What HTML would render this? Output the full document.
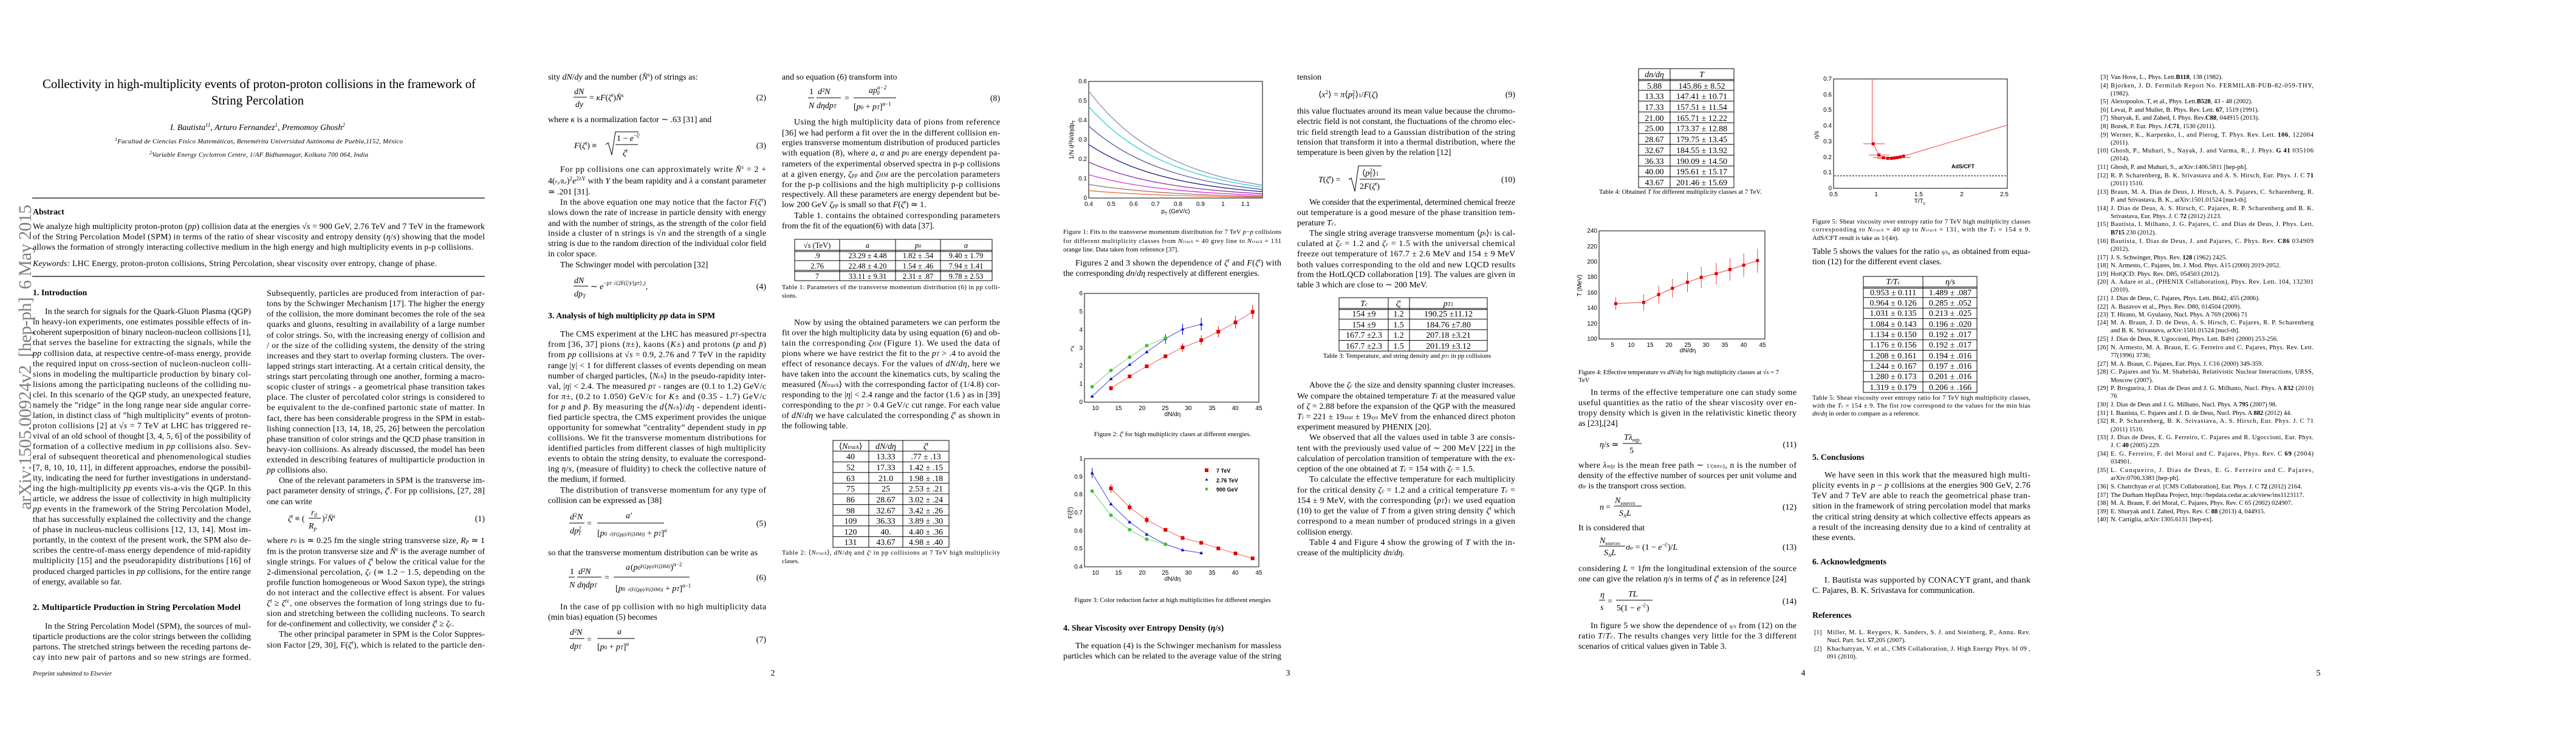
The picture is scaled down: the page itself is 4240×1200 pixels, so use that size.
<!DOCTYPE html>
<html><head><meta charset="utf-8"><style>
html,body{margin:0;padding:0;background:#fff;}
svg{display:block;}
text{font-family:"Liberation Serif",serif;font-size:13.9px;fill:#000;}
.c{font-size:10.8px;}
.b{font-weight:bold;}
.i{font-style:italic;}
.s{font-family:"Liberation Sans",sans-serif;font-size:10px;}
.r{font-size:10.6px;}
.m{text-anchor:middle;}
.e{text-anchor:end;}
.ax{fill:none;stroke:#000;stroke-width:1;}
.tl{stroke:#000;stroke-width:1;}
</style></head><body>
<svg width="4240" height="1200" viewBox="0 0 4240 1200" xmlns="http://www.w3.org/2000/svg">
<rect width="4240" height="1200" fill="#fff"/>

<!-- ================= PAGE 1 ================= -->
<text x="51" y="839" transform="rotate(-90 51 839)" textLength="502" style="font-size:30px;fill:#808080" xml:space="preserve">arXiv:1505.00924v2  [hep-ph]  6 May 2015</text>
<text x="70" y="145" textLength="713" style="font-size:21px">Collectivity in high-multiplicity events of proton-proton collisions in the framework of</text>
<text x="424" y="172" class="m" style="font-size:21px">String Percolation</text>
<text x="424" y="214" class="m i">I. Bautista<tspan dy="-5" style="font-size:9px">11</tspan><tspan dy="5">, Arturo Fernandez</tspan><tspan dy="-5" style="font-size:9px">1</tspan><tspan dy="5">, Premomoy Ghosh</tspan><tspan dy="-5" style="font-size:9px">2</tspan></text>
<text x="189" y="236" textLength="474" class="i c"><tspan style="font-size:8px" dy="-4">1</tspan><tspan dy="4">Facultad de Ciencias Físico Matemáticas, Benemérita Universidad Autónoma de Puebla,1152, México</tspan></text>
<text x="246" y="258" textLength="360" class="i c"><tspan style="font-size:8px" dy="-4">2</tspan><tspan dy="4">Variable Energy Cyclotron Centre, 1/AF Bidhannagar, Kolkata 700 064, India</tspan></text>
<line x1="53" y1="326" x2="798" y2="326" stroke="#000" stroke-width="1.3"/>
<text x="54" y="353" class="b">Abstract</text>
<text x="54" y="377" textLength="744">We analyze high multiplicity proton-proton (<tspan class="i">pp</tspan>) collision data at the energies √<tspan class="i">s</tspan> = 900 GeV, 2.76 TeV and 7 TeV in the framework</text>
<text x="54" y="394" textLength="744">of the String Percolation Model (SPM) in terms of the ratio of shear viscosity and entropy density (<tspan class="i">η</tspan>/<tspan class="i">s</tspan>) showing that the model</text>
<text x="54" y="411" textLength="725">allows the formation of strongly interacting collective medium in the high energy and high multiplicity events in p-p collisions.</text>
<text x="54" y="438" textLength="665"><tspan class="i">Keywords:</tspan>  LHC Energy, proton-proton collisions, String Percolation, shear viscosity over entropy, change of phase.</text>
<line x1="53" y1="455" x2="798" y2="455" stroke="#000" stroke-width="1.3"/>

<text x="54" y="486" class="b">1.  Introduction</text>
<text x="74" y="517" textLength="339">In the search for signals for the Quark-Gluon Plasma (QGP)</text>
<text x="54" y="534" textLength="359">in heavy-ion experiments, one estimates possible effects of in-</text>
<text x="54" y="551" textLength="359">coherent superposition of binary nucleon-nucleon collisions [1],</text>
<text x="54" y="568" textLength="359">that serves the baseline for extracting the signals, while the</text>
<text x="54" y="586" textLength="359"><tspan class="i">pp</tspan> collision data, at respective centre-of-mass energy, provide</text>
<text x="54" y="603" textLength="359">the required input on cross-section of nucleon-nucleon colli-</text>
<text x="54" y="620" textLength="359">sions in modeling the multiparticle production by binary col-</text>
<text x="54" y="637" textLength="359">lisions among the participating nucleons of the colliding nu-</text>
<text x="54" y="654" textLength="359">clei. In this scenario of the QGP study, an unexpected feature,</text>
<text x="54" y="671" textLength="359">namely the ”ridge” in the long range near side angular corre-</text>
<text x="54" y="688" textLength="359">lation, in distinct class of ”high multiplicity” events of proton-</text>
<text x="54" y="705" textLength="359">proton collisions [2] at √<tspan class="i">s</tspan> = 7 TeV at LHC has triggered re-</text>
<text x="54" y="722" textLength="359">vival of an old school of thought [3, 4, 5, 6] of the possibility of</text>
<text x="54" y="739" textLength="359">formation of a collective medium in <tspan class="i">pp</tspan> collisions also. Sev-</text>
<text x="54" y="756" textLength="359">eral of subsequent theoretical and phenomenological studies</text>
<text x="54" y="774" textLength="359">[7, 8, 10, 10, 11], in different approaches, endorse the possibil-</text>
<text x="54" y="791" textLength="359">ity, indicating the need for further investigations in understand-</text>
<text x="54" y="808" textLength="359">ing the high-multiplicity <tspan class="i">pp</tspan> events vis-a-vis the QGP. In this</text>
<text x="54" y="825" textLength="359">article, we address the issue of collectivity in high multiplicity</text>
<text x="54" y="842" textLength="359"><tspan class="i">pp</tspan> events in the framework of the String Percolation Model,</text>
<text x="54" y="859" textLength="359">that has successfully explained the collectivity and the change</text>
<text x="54" y="876" textLength="359">of phase in nucleus-nucleus collisions [12, 13, 14]. Most im-</text>
<text x="54" y="893" textLength="359">portantly, in the context of the present work, the SPM also de-</text>
<text x="54" y="910" textLength="359">scribes the centre-of-mass energy dependence of mid-rapidity</text>
<text x="54" y="927" textLength="359">multiplicity [15] and the pseudorapidity distributions [16] of</text>
<text x="54" y="945" textLength="359">produced charged particles in <tspan class="i">pp</tspan> collisions, for the entire range</text>
<text x="54" y="962">of energy, available so far.</text>
<text x="54" y="1004" class="b" textLength="342">2.  Multiparticle Production in String Percolation Model</text>
<text x="74" y="1035" textLength="339">In the String Percolation Model (SPM), the sources of mul-</text>
<text x="54" y="1052" textLength="359">tiparticle productions are the color strings between the colliding</text>
<text x="54" y="1069" textLength="359">partons. The stretched strings between the receding partons de-</text>
<text x="54" y="1086" textLength="359">cay into new pair of partons and so new strings are formed.</text>
<text x="54" y="1112" class="i c">Preprint submitted to Elsevier</text>

<text x="439" y="487" textLength="359">Subsequently, particles are produced from interaction of par-</text>
<text x="439" y="504" textLength="359">tons by the Schwinger Mechanism [17]. The higher the energy</text>
<text x="439" y="521" textLength="359">of the collision, the more dominant becomes the role of the sea</text>
<text x="439" y="538" textLength="359">quarks and gluons, resulting in availability of a large number</text>
<text x="439" y="556" textLength="359">of color strings. So, with the increasing energy of collision and</text>
<text x="439" y="573" textLength="359">/ or the size of the colliding system, the density of the string</text>
<text x="439" y="590" textLength="359">increases and they start to overlap forming clusters. The over-</text>
<text x="439" y="607" textLength="359">lapped strings start interacting. At a certain critical density, the</text>
<text x="439" y="624" textLength="359">strings start percolating through one another, forming a macro-</text>
<text x="439" y="641" textLength="359">scopic cluster of strings - a geometrical phase transition takes</text>
<text x="439" y="658" textLength="359">place. The cluster of percolated color strings is considered to</text>
<text x="439" y="675" textLength="359">be equivalent to the de-confined partonic state of matter. In</text>
<text x="439" y="693" textLength="359">fact, there has been considerable progress in the SPM in estab-</text>
<text x="439" y="710" textLength="359">lishing connection [13, 14, 18, 25, 26] between the percolation</text>
<text x="439" y="727" textLength="359">phase transition of color strings and the QCD phase transition in</text>
<text x="439" y="744" textLength="359">heavy-ion collisions. As already discussed, the model has been</text>
<text x="439" y="761" textLength="359">extended in describing features of multiparticle production in</text>
<text x="439" y="778"><tspan class="i">pp</tspan> collisions also.</text>
<text x="459" y="795" textLength="339">One of the relevant parameters in SPM is the transverse im-</text>
<text x="439" y="812" textLength="359">pact parameter density of strings, <tspan class="i">ζ<tspan style="font-size:9px" dy="-5">t</tspan></tspan><tspan dy="5">. For pp collisions, [27, 28]</tspan></text>
<text x="439" y="830">one can write</text>
<text x="474" y="858" class="i">ζ<tspan style="font-size:9px" dy="-5">t</tspan><tspan dy="5" style="font-style:normal"> ≡ (</tspan></text>
<text x="512" y="848" class="i">r<tspan style="font-size:9px" dy="3">0</tspan></text>
<line x1="508" y1="853" x2="528" y2="853" class="tl"/>
<text x="508" y="870" class="i">R<tspan style="font-size:9px" dy="3">p</tspan></text>
<text x="530" y="858">)<tspan style="font-size:9px" dy="-5">2</tspan><tspan dy="5" class="i">N̄</tspan><tspan style="font-size:9px" dy="-5" class="i">s</tspan></text>
<text x="798" y="858" class="e">(1)</text>
<text x="439" y="894" textLength="359">where <tspan class="i">r</tspan><tspan style="font-size:9px">0</tspan> is ≃ 0.25 fm the single string transverse size, <tspan class="i">R<tspan style="font-size:9px">p</tspan></tspan> ≃ 1</text>
<text x="439" y="912" textLength="359">fm is the proton transverse size and <tspan class="i">N̄<tspan style="font-size:9px" dy="-5">s</tspan></tspan><tspan dy="5"> is the average number of</tspan></text>
<text x="439" y="929" textLength="359">single strings. For values of <tspan class="i">ζ<tspan style="font-size:9px" dy="-5">t</tspan></tspan><tspan dy="5"> below the critical value for the</tspan></text>
<text x="439" y="946" textLength="359">2-dimensional percolation, <tspan class="i">ζ<tspan style="font-size:9px">c</tspan></tspan> (≃ 1.2 − 1.5, depending on the</text>
<text x="439" y="963" textLength="359">profile function homogeneous or Wood Saxon type), the strings</text>
<text x="439" y="980" textLength="359">do not interact and the collective effect is absent. For values</text>
<text x="439" y="997" textLength="359"><tspan class="i">ζ<tspan style="font-size:9px" dy="-5">t</tspan></tspan><tspan dy="5"> ≥ </tspan><tspan class="i">ζ<tspan style="font-size:9px" dy="-5">tc</tspan></tspan><tspan dy="5">, one observes the formation of long strings due to fu-</tspan></text>
<text x="439" y="1014" textLength="359">sion and stretching between the colliding nucleons. To search</text>
<text x="439" y="1031">for de-confinement and collectivity, we consider <tspan class="i">ζ<tspan style="font-size:9px" dy="-5">t</tspan></tspan><tspan dy="5"> ≥ </tspan><tspan class="i">ζ<tspan style="font-size:9px">c</tspan></tspan>.</text>
<text x="459" y="1048" textLength="339">The other principal parameter in SPM is the Color Suppres-</text>
<text x="439" y="1066" textLength="359">sion Factor [29, 30], F(<tspan class="i">ζ<tspan style="font-size:9px" dy="-5">t</tspan></tspan><tspan dy="5">), which is related to the particle den-</tspan></text>

<!-- ================= PAGE 2 ================= -->
<text x="902" y="131">sity <tspan class="i">dN</tspan>/<tspan class="i">dy</tspan> and the number (<tspan class="i">N̄<tspan style="font-size:9px" dy="-5">s</tspan></tspan><tspan dy="5">) of strings as:</tspan></text>
<text x="945" y="155" class="i">dN</text><line x1="944" y1="160" x2="966" y2="160" class="tl"/><text x="947" y="176" class="i">dy</text>
<text x="970" y="165">= <tspan class="i">κF</tspan>(<tspan class="i">ζ<tspan style="font-size:9px" dy="-5">t</tspan></tspan><tspan dy="5">)</tspan><tspan class="i">N̄</tspan><tspan style="font-size:9px" dy="-5" class="i">s</tspan></text>
<text x="1261" y="165" class="e">(2)</text>
<text x="902" y="201">where <tspan class="i">κ</tspan> is a normalization factor ∼ .63 [31] and</text>
<text x="945" y="244"><tspan class="i">F</tspan>(<tspan class="i">ζ<tspan style="font-size:9px" dy="-5">t</tspan></tspan><tspan dy="5">) ≡</tspan></text>
<path d="M997,238 l4,-3 l6,20 l6,-38 h38" class="ax"/>
<text x="1015" y="232">1 − <tspan class="i">e</tspan><tspan style="font-size:9px" dy="-6">−ζᵗ</tspan></text>
<line x1="1013" y1="238" x2="1050" y2="238" class="tl"/>
<text x="1025" y="256" class="i">ζ<tspan style="font-size:9px" dy="-5">t</tspan></text>
<text x="1261" y="244" class="e">(3)</text>
<text x="922" y="283" textLength="339">For pp collisions one can approximately write <tspan class="i">N̄<tspan style="font-size:9px" dy="-5">s</tspan></tspan><tspan dy="5"> = 2 +</tspan></text>
<text x="902" y="302" textLength="359">4(<tspan class="i" style="font-size:9px">r₀/Rₚ</tspan>)<tspan style="font-size:9px" dy="-5">2</tspan><tspan dy="5" class="i">e</tspan><tspan style="font-size:9px" dy="-5">2λY</tspan><tspan dy="5"> with </tspan><tspan class="i">Y</tspan> the beam rapidity and <tspan class="i">λ</tspan> a constant parameter</text>
<text x="902" y="320">≃ .201 [31].</text>
<text x="922" y="337" textLength="339">In the above equation one may notice that the factor <tspan class="i">F</tspan>(<tspan class="i">ζ<tspan style="font-size:9px" dy="-5">t</tspan></tspan><tspan dy="5">)</tspan></text>
<text x="902" y="354" textLength="359">slows down the rate of increase in particle density with energy</text>
<text x="902" y="372" textLength="359">and with the number of strings, as the strength of the color field</text>
<text x="902" y="388" textLength="359">inside a cluster of n strings is √<tspan class="i">n</tspan> and the strength of a single</text>
<text x="902" y="405" textLength="359">string is due to the random direction of the individual color field</text>
<text x="902" y="422">in color space.</text>
<text x="922" y="440">The Schwinger model with percolation [32]</text>
<text x="945" y="466" class="i">dN</text><line x1="944" y1="471" x2="968" y2="471" class="tl"/><text x="945" y="488" class="i">dp<tspan style="font-size:9px" dy="3">T</tspan></text>
<text x="972" y="476">∼ <tspan class="i">e</tspan><tspan style="font-size:9px" dy="-7">−p<tspan style="font-size:7px">T</tspan> √(2F(ζᵗ)/⟨p<tspan style="font-size:7px">T</tspan>⟩₁)</tspan><tspan dy="7">,</tspan></text>
<text x="1261" y="476" class="e">(4)</text>
<text x="902" y="524" class="b">3.  Analysis of high multiplicity <tspan class="i">pp</tspan> data in SPM</text>
<text x="922" y="554" textLength="339">The CMS experiment at the LHC has measured <tspan class="i">p<tspan style="font-size:9px">T</tspan></tspan>-spectra</text>
<text x="902" y="571" textLength="359">from [36, 37] pions (<tspan class="i">π</tspan>±), kaons (<tspan class="i">K</tspan>±) and protons (<tspan class="i">p</tspan> and <tspan class="i">p̄</tspan>)</text>
<text x="902" y="588" textLength="359">from <tspan class="i">pp</tspan> collisions at √<tspan class="i">s</tspan> = 0.9, 2.76 and 7 TeV in the rapidity</text>
<text x="902" y="606" textLength="359">range |y| &lt; 1 for different classes of events depending on mean</text>
<text x="902" y="623" textLength="359">number of charged particles, ⟨<tspan class="i">N<tspan style="font-size:9px">ch</tspan></tspan>⟩ in the pseudo-rapidity inter-</text>
<text x="902" y="640" textLength="359">val, |<tspan class="i">η</tspan>| &lt; 2.4. The measured <tspan class="i">p<tspan style="font-size:9px">T</tspan></tspan> - ranges are (0.1 to 1.2) GeV/c</text>
<text x="902" y="657" textLength="359">for <tspan class="i">π</tspan>±, (0.2 to 1.050) GeV/c for <tspan class="i">K</tspan>± and (0.35 - 1.7) GeV/c</text>
<text x="902" y="674" textLength="359">for <tspan class="i">p</tspan> and <tspan class="i">p̄</tspan>. By measuring the <tspan class="i">d</tspan>⟨<tspan class="i">N<tspan style="font-size:9px">ch</tspan></tspan>⟩/<tspan class="i">dη</tspan> - dependent identi-</text>
<text x="902" y="691" textLength="359">fied particle spectra, the CMS experiment provides the unique</text>
<text x="902" y="708" textLength="359">opportunity for somewhat ”centrality” dependent study in <tspan class="i">pp</tspan></text>
<text x="902" y="725" textLength="359">collisions. We fit the transverse momentum distributions for</text>
<text x="902" y="742" textLength="359">identified particles from different classes of high multiplicity</text>
<text x="902" y="759" textLength="359">events to obtain the string density, to evaluate the correspond-</text>
<text x="902" y="776" textLength="359">ing <tspan class="i">η</tspan>/<tspan class="i">s</tspan>, (measure of fluidity) to check the collective nature of</text>
<text x="902" y="793">the medium, if formed.</text>
<text x="922" y="811" textLength="339">The distribution of transverse momentum for any type of</text>
<text x="902" y="828">collision can be expressed as [38]</text>
<text x="938" y="855" class="i">d</text><text x="945" y="851" style="font-size:9px">2</text><text x="950" y="855" class="i">N</text>
<line x1="937" y1="861" x2="962" y2="861" class="tl"/>
<text x="938" y="878" class="i">dp<tspan style="font-size:9px" dy="-5">2</tspan><tspan style="font-size:9px" dx="-5" dy="8">T</tspan></text>
<text x="966" y="866">=</text>
<text x="1030" y="853" class="i">a′</text>
<line x1="983" y1="861" x2="1093" y2="861" class="tl"/>
<text x="983" y="882">[<tspan class="i">p</tspan><tspan style="font-size:9px">0</tspan> <tspan style="font-size:8px">√(F(ζpp)/F(ζHM))</tspan> + <tspan class="i">p<tspan style="font-size:9px">T</tspan></tspan>]<tspan style="font-size:9px" dy="-6" class="i">α</tspan></text>
<text x="1261" y="866" class="e">(5)</text>
<text x="902" y="914" textLength="345">so that the transverse momentum distribution can be write as</text>
<text x="938" y="945">1</text><line x1="936" y1="950" x2="946" y2="950" class="tl"/><text x="937" y="967" class="i">N</text>
<text x="952" y="945" class="i">d²N</text><line x1="950" y1="950" x2="990" y2="950" class="tl"/><text x="950" y="967" class="i">dηdp<tspan style="font-size:9px">T</tspan></text>
<text x="995" y="955">=</text>
<text x="1030" y="938" class="i">a</text><text x="1038" y="938">(<tspan class="i">p</tspan><tspan style="font-size:9px">0</tspan><tspan style="font-size:8px" dy="-3">F(ζpp)/F(ζHM)</tspan><tspan dy="3">)</tspan><tspan style="font-size:9px" dy="-6">α−2</tspan></text>
<line x1="1010" y1="950" x2="1135" y2="950" class="tl"/>
<text x="1013" y="973">[<tspan class="i">p</tspan><tspan style="font-size:9px">0</tspan> <tspan style="font-size:8px">√(F(ζpp)/F(ζHM))</tspan> + <tspan class="i">p<tspan style="font-size:9px">T</tspan></tspan>]<tspan style="font-size:9px" dy="-6">α−1</tspan></text>
<text x="1261" y="955" class="e">(6)</text>
<text x="922" y="1003" textLength="339">In the case of pp collision with no high multiplicity data</text>
<text x="902" y="1020">(min bias) equation (5) becomes</text>
<text x="938" y="1045" class="i">d²N</text><line x1="937" y1="1051" x2="962" y2="1051" class="tl"/><text x="938" y="1068" class="i">dp<tspan style="font-size:9px">T</tspan></text>
<text x="966" y="1057">=</text>
<text x="1016" y="1044" class="i">a</text><line x1="983" y1="1051" x2="1045" y2="1051" class="tl"/>
<text x="983" y="1069">[<tspan class="i">p</tspan><tspan style="font-size:9px">0</tspan> + <tspan class="i">p<tspan style="font-size:9px">T</tspan></tspan>]<tspan style="font-size:9px" dy="-6" class="i">α</tspan></text>
<text x="1261" y="1057" class="e">(7)</text>
<text x="1272" y="1112" class="m">2</text>

<text x="1287" y="131">and so equation (6) transform into</text>
<text x="1332" y="155">1</text><line x1="1330" y1="161" x2="1340" y2="161" class="tl"/><text x="1331" y="178" class="i">N</text>
<text x="1346" y="155" class="i">d²N</text><line x1="1344" y1="161" x2="1384" y2="161" class="tl"/><text x="1344" y="178" class="i">dηdp<tspan style="font-size:9px">T</tspan></text>
<text x="1390" y="166">=</text>
<text x="1430" y="153" class="i">ap<tspan style="font-size:9px" dy="-6">α−2</tspan><tspan style="font-size:9px" dx="-16" dy="9">0</tspan></text>
<line x1="1405" y1="161" x2="1475" y2="161" class="tl"/>
<text x="1405" y="180">[<tspan class="i">p</tspan><tspan style="font-size:9px">0</tspan> + <tspan class="i">p<tspan style="font-size:9px">T</tspan></tspan>]<tspan style="font-size:9px" dy="-6">α−1</tspan></text>
<text x="1646" y="166" class="e">(8)</text>
<text x="1307" y="205" textLength="339">Using the high multiplicity data of pions from reference</text>
<text x="1287" y="223" textLength="359">[36] we had perform a fit over the in the different collision en-</text>
<text x="1287" y="239" textLength="359">ergies transverse momentum distribution of produced particles</text>
<text x="1287" y="256" textLength="359">with equation (8), where <tspan class="i">a</tspan>, <tspan class="i">α</tspan> and <tspan class="i">p</tspan><tspan style="font-size:9px">0</tspan> are energy dependent pa-</text>
<text x="1287" y="274" textLength="359">rameters of the experimental observed spectra in p-p collisions</text>
<text x="1287" y="291" textLength="359">at a given energy, <tspan class="i">ζ<tspan style="font-size:9px">pp</tspan></tspan> and <tspan class="i">ζ<tspan style="font-size:9px">HM</tspan></tspan> are the percolation parameters</text>
<text x="1287" y="308" textLength="359">for the p-p collisions and the high multiplicity p-p collisions</text>
<text x="1287" y="324" textLength="359">respectively. All these parameters are energy dependent but be-</text>
<text x="1287" y="341">low 200 GeV <tspan class="i">ζ<tspan style="font-size:9px">pp</tspan></tspan> is small so that <tspan class="i">F</tspan>(<tspan class="i">ζ<tspan style="font-size:9px" dy="-5">t</tspan></tspan><tspan dy="5">) ≃ 1.</tspan></text>
<text x="1307" y="359" textLength="339">Table 1. contains the obtained corresponding parameters</text>
<text x="1287" y="376">from the fit of the equation(6) with data [37].</text>
<!-- Table 1 -->
<rect x="1308" y="394" width="325" height="68" class="ax"/>
<line x1="1308" y1="412" x2="1633" y2="412" class="tl"/><line x1="1308" y1="414" x2="1633" y2="414" class="tl"/>
<line x1="1308" y1="429" x2="1633" y2="429" class="tl"/>
<line x1="1308" y1="445" x2="1633" y2="445" class="tl"/><line x1="1308" y1="447" x2="1633" y2="447" class="tl"/>
<line x1="1382" y1="394" x2="1382" y2="462" class="tl"/><line x1="1474" y1="394" x2="1474" y2="462" class="tl"/><line x1="1548" y1="394" x2="1548" y2="462" class="tl"/>
<g style="font-size:12.5px">
<text x="1345" y="408" class="m" style="font-size:12.5px">√<tspan class="i">s</tspan> (TeV)</text><text x="1428" y="408" class="m i" style="font-size:12.5px">a</text><text x="1511" y="408" class="m i" style="font-size:12.5px">p<tspan style="font-size:8px">0</tspan></text><text x="1590" y="408" class="m i" style="font-size:12.5px">α</text>
<text x="1345" y="425" class="m" style="font-size:12.5px">.9</text><text x="1428" y="425" class="m" style="font-size:12.5px">23.29 ± 4.48</text><text x="1511" y="425" class="m" style="font-size:12.5px">1.82 ± .54</text><text x="1590" y="425" class="m" style="font-size:12.5px">9.40 ± 1.79</text>
<text x="1345" y="442" class="m" style="font-size:12.5px">2.76</text><text x="1428" y="442" class="m" style="font-size:12.5px">22.48 ± 4.20</text><text x="1511" y="442" class="m" style="font-size:12.5px">1.54 ± .46</text><text x="1590" y="442" class="m" style="font-size:12.5px">7.94 ± 1.41</text>
<text x="1345" y="459" class="m" style="font-size:12.5px">7</text><text x="1428" y="459" class="m" style="font-size:12.5px">33.11 ± 9.31</text><text x="1511" y="459" class="m" style="font-size:12.5px">2.31 ± .87</text><text x="1590" y="459" class="m" style="font-size:12.5px">9.78 ± 2.53</text>
</g>
<text x="1287" y="476" class="c" textLength="359">Table 1: Parameters of the transverse momentum distribution (6) in pp colli-</text>
<text x="1287" y="490" class="c">sions.</text>
<text x="1307" y="535" textLength="339">Now by using the obtained parameters we can perform the</text>
<text x="1287" y="552" textLength="359">fit over the high multiplicity data by using equation (6) and ob-</text>
<text x="1287" y="569" textLength="359">tain the corresponding <tspan class="i">ζ<tspan style="font-size:9px">HM</tspan></tspan> (Figure 1). We used the data of</text>
<text x="1287" y="586" textLength="359">pions where we have restrict the fit to the <tspan class="i">p<tspan style="font-size:9px">T</tspan></tspan> &gt; .4 to avoid the</text>
<text x="1287" y="603" textLength="359">effect of resonance decays. For the values of <tspan class="i">dN</tspan>/<tspan class="i">dη</tspan>, here we</text>
<text x="1287" y="620" textLength="359">have taken into the account the kinematics cuts, by scaling the</text>
<text x="1287" y="637" textLength="359">measured ⟨<tspan class="i">N<tspan style="font-size:9px">track</tspan></tspan>⟩ with the corresponding factor of (1/4.8) cor-</text>
<text x="1287" y="654" textLength="359">responding to the |<tspan class="i">η</tspan>| &lt; 2.4 range and the factor (1.6 ) as in [39]</text>
<text x="1287" y="671" textLength="359">corresponding to the <tspan class="i">p<tspan style="font-size:9px">T</tspan></tspan> &gt; 0.4 GeV/<tspan class="i">c</tspan> cut range. For each value</text>
<text x="1287" y="688" textLength="359">of <tspan class="i">dN</tspan>/<tspan class="i">dη</tspan> we have calculated the corresponding <tspan class="i">ζ<tspan style="font-size:9px" dy="-5">t</tspan></tspan><tspan dy="5"> as shown in</tspan></text>
<text x="1287" y="705">the following table.</text>
<!-- Table 2 -->
<rect x="1371" y="725" width="191" height="176" class="ax"/>
<line x1="1430" y1="725" x2="1430" y2="901" class="tl"/><line x1="1486" y1="725" x2="1486" y2="901" class="tl"/>
<g class="tl">
<line x1="1371" y1="742.6" x2="1562" y2="742.6"/><line x1="1371" y1="760.2" x2="1562" y2="760.2"/><line x1="1371" y1="777.8" x2="1562" y2="777.8"/><line x1="1371" y1="795.4" x2="1562" y2="795.4"/><line x1="1371" y1="813" x2="1562" y2="813"/><line x1="1371" y1="830.6" x2="1562" y2="830.6"/><line x1="1371" y1="848.2" x2="1562" y2="848.2"/><line x1="1371" y1="865.8" x2="1562" y2="865.8"/><line x1="1371" y1="883.4" x2="1562" y2="883.4"/>
</g>
<text x="1400" y="739" class="m">⟨<tspan class="i">N<tspan style="font-size:9px">track</tspan></tspan>⟩</text><text x="1458" y="739" class="m i">dN/dη</text><text x="1524" y="739" class="m i">ζ<tspan style="font-size:9px" dy="-5">t</tspan></text>
<text x="1400" y="756" class="m">40</text><text x="1458" y="756" class="m">13.33</text><text x="1524" y="756" class="m">.77 ± .13</text>
<text x="1400" y="774" class="m">52</text><text x="1458" y="774" class="m">17.33</text><text x="1524" y="774" class="m">1.42 ± .15</text>
<text x="1400" y="792" class="m">63</text><text x="1458" y="792" class="m">21.0</text><text x="1524" y="792" class="m">1.98 ± .18</text>
<text x="1400" y="809" class="m">75</text><text x="1458" y="809" class="m">25</text><text x="1524" y="809" class="m">2.53 ± .21</text>
<text x="1400" y="827" class="m">86</text><text x="1458" y="827" class="m">28.67</text><text x="1524" y="827" class="m">3.02 ± .24</text>
<text x="1400" y="845" class="m">98</text><text x="1458" y="845" class="m">32.67</text><text x="1524" y="845" class="m">3.42 ± .26</text>
<text x="1400" y="862" class="m">109</text><text x="1458" y="862" class="m">36.33</text><text x="1524" y="862" class="m">3.89 ± .30</text>
<text x="1400" y="880" class="m">120</text><text x="1458" y="880" class="m">40.</text><text x="1524" y="880" class="m">4.40 ± .36</text>
<text x="1400" y="897" class="m">131</text><text x="1458" y="897" class="m">43.67</text><text x="1524" y="897" class="m">4.98 ± .40</text>
<text x="1287" y="913" class="c" textLength="359">Table 2:  ⟨<tspan class="i">N<tspan style="font-size:7px">track</tspan></tspan>⟩, <tspan class="i">dN</tspan>/<tspan class="i">dη</tspan> and <tspan class="i">ζᵗ</tspan> in pp collisions at 7 TeV high multiplicity</text>
<text x="1287" y="927" class="c">clases.</text>

<!-- ================= PAGE 3 ================= -->
<!-- Fig 1 -->
<g>
<rect x="1792" y="134" width="286" height="192" class="ax"/>
<g class="s e">
<text x="1789" y="329" class="s e">0</text><text x="1789" y="297" class="s e">0.1</text><text x="1789" y="265" class="s e">0.2</text><text x="1789" y="233" class="s e">0.3</text><text x="1789" y="201" class="s e">0.4</text><text x="1789" y="169" class="s e">0.5</text><text x="1789" y="137" class="s e">0.6</text>
</g>
<text x="1792" y="339" class="s m">0.4</text><text x="1829" y="339" class="s m">0.5</text><text x="1866" y="339" class="s m">0.6</text><text x="1902" y="339" class="s m">0.7</text><text x="1939" y="339" class="s m">0.8</text><text x="1976" y="339" class="s m">0.9</text><text x="2013" y="339" class="s m">1</text><text x="2050" y="339" class="s m">1.1</text>
<text x="1935" y="351" class="s m">p<tspan style="font-size:7px" dy="3">T</tspan><tspan dy="-3"> (GeV/c)</tspan></text>
<text x="1767" y="230" class="s m" transform="rotate(-90 1767 230)">1/N d<tspan style="font-size:7px" dy="-3">2</tspan><tspan dy="3">N/dηdp</tspan><tspan style="font-size:7px" dy="3">T</tspan></text>
<g fill="none" stroke-width="1.3">
<path vector-effect="non-scaling-stroke" transform="translate(0,326) scale(1,-176)" d="M1792,1 C1839.7,.647 1887.4,.4692 1935,.3468 C1982.7,.2244 2030.4,.1624 2078,.12" stroke="#8888b8"/>
<path vector-effect="non-scaling-stroke" transform="translate(0,326) scale(1,-150.4)" d="M1792,1 C1839.7,.647 1887.4,.4692 1935,.3468 C1982.7,.2244 2030.4,.1624 2078,.12" stroke="#30d0d0"/>
<path vector-effect="non-scaling-stroke" transform="translate(0,326) scale(1,-118.4)" d="M1792,1 C1839.7,.647 1887.4,.4692 1935,.3468 C1982.7,.2244 2030.4,.1624 2078,.12" stroke="#5a55a0"/>
<path vector-effect="non-scaling-stroke" transform="translate(0,326) scale(1,-88)" d="M1792,1 C1839.7,.647 1887.4,.4692 1935,.3468 C1982.7,.2244 2030.4,.1624 2078,.12" stroke="#1a1a80"/>
<path vector-effect="non-scaling-stroke" transform="translate(0,326) scale(1,-59.2)" d="M1792,1 C1839.7,.647 1887.4,.4692 1935,.3468 C1982.7,.2244 2030.4,.1624 2078,.12" stroke="#8a2aa0"/>
<path vector-effect="non-scaling-stroke" transform="translate(0,326) scale(1,-38.4)" d="M1792,1 C1839.7,.647 1887.4,.4692 1935,.3468 C1982.7,.2244 2030.4,.1624 2078,.12" stroke="#e030e0"/>
<path vector-effect="non-scaling-stroke" transform="translate(0,326) scale(1,-22.4)" d="M1792,1 C1839.7,.647 1887.4,.4692 1935,.3468 C1982.7,.2244 2030.4,.1624 2078,.12" stroke="#a06a6a"/>
<path vector-effect="non-scaling-stroke" transform="translate(0,326) scale(1,-12.2)" d="M1792,1 C1839.7,.647 1887.4,.4692 1935,.3468 C1982.7,.2244 2030.4,.1624 2078,.12" stroke="#f07030"/>
</g>
</g>
<text x="1750" y="385" class="c" textLength="359">Figure 1: Fits to the transverse momentum distribution for 7 TeV <tspan class="i">p</tspan>−<tspan class="i">p</tspan> collisions</text>
<text x="1750" y="400" class="c" textLength="359">for different multiplicity classes from <tspan class="i">N<tspan style="font-size:7px">track</tspan></tspan> = 40 grey line to <tspan class="i">N<tspan style="font-size:7px">track</tspan></tspan> = 131</text>
<text x="1750" y="414" class="c">orange line. Data taken from reference [37].</text>
<text x="1770" y="437" textLength="339">Figures 2 and 3 shown the dependence of <tspan class="i">ζ<tspan style="font-size:9px" dy="-5">t</tspan></tspan><tspan dy="5"> and </tspan><tspan class="i">F</tspan>(<tspan class="i">ζ<tspan style="font-size:9px" dy="-5">t</tspan></tspan><tspan dy="5">) with</tspan></text>
<text x="1750" y="454">the corresponding <tspan class="i">dn</tspan>/<tspan class="i">dη</tspan> respectively at different energies.</text>

<!-- Fig 2 -->
<rect x="1785" y="483" width="287" height="179" class="ax"/>
<text x="1782" y="665" class="s e">0</text><text x="1782" y="635" class="s e">1</text><text x="1782" y="605" class="s e">2</text><text x="1782" y="576" class="s e">3</text><text x="1782" y="546" class="s e">4</text><text x="1782" y="516" class="s e">5</text><text x="1782" y="486" class="s e">6</text>
<text x="1803" y="675" class="s m">10</text><text x="1841" y="675" class="s m">15</text><text x="1880" y="675" class="s m">20</text><text x="1918" y="675" class="s m">25</text><text x="1956" y="675" class="s m">30</text><text x="1995" y="675" class="s m">35</text><text x="2033" y="675" class="s m">40</text><text x="2072" y="675" class="s m">45</text>
<text x="1930" y="685" class="s m">dN/dη</text>
<text x="1765" y="577" class="i m" style="font-size:10px">ζ<tspan style="font-size:7px" dy="-4">t</tspan></text>
<polyline fill="none" stroke="#f06060" points="1828.6,639 1859.3,619.6 1887.5,603 1918.3,586.5 1946.5,571.9 1977.2,560 2005.3,546 2033.6,530.7 2061.7,513.4"/>
<polyline fill="none" stroke="#4040e0" points="1797.6,652.5 1828.6,623.8 1859.3,600.3 1887.5,579.4 1918.3,557.6 1946.5,541.8 1977.2,533.7"/>
<polyline fill="none" stroke="#70d070" points="1797.6,636.6 1828.6,609.8 1859.3,588 1887.5,568.9 1918.3,556.4"/>
<g fill="#e00000"><rect x="1825.6" y="636" width="6" height="6"/><rect x="1856.3" y="616.6" width="6" height="6"/><rect x="1884.5" y="600" width="6" height="6"/><rect x="1915.3" y="583.5" width="6" height="6"/><rect x="1943.5" y="568.9" width="6" height="6"/><rect x="1974.2" y="557" width="6" height="6"/><rect x="2002.3" y="543" width="6" height="6"/><rect x="2030.6" y="527.7" width="6" height="6"/><rect x="2058.7" y="510.4" width="6" height="6"/></g>
<g stroke="#e00000"><line x1="1828.6" y1="635" x2="1828.6" y2="643"/><line x1="1946.5" y1="565" x2="1946.5" y2="579"/><line x1="1977.2" y1="552" x2="1977.2" y2="568"/><line x1="2005.3" y1="537" x2="2005.3" y2="555"/><line x1="2033.6" y1="520" x2="2033.6" y2="541"/><line x1="2061.7" y1="502" x2="2061.7" y2="525"/></g>
<g fill="#0000d0"><path d="M1797.6,649.5 l3,5 h-6z M1828.6,620.8 l3,5 h-6z M1859.3,597.3 l3,5 h-6z M1887.5,576.4 l3,5 h-6z M1918.3,554.6 l3,5 h-6z M1946.5,538.8 l3,5 h-6z M1977.2,530.7 l3,5 h-6z"/></g>
<g stroke="#0000d0"><line x1="1946.5" y1="533" x2="1946.5" y2="551"/><line x1="1977.2" y1="523" x2="1977.2" y2="544"/><line x1="1918.3" y1="550" x2="1918.3" y2="566"/></g>
<g fill="#40c040"><circle cx="1797.6" cy="636.6" r="3"/><circle cx="1828.6" cy="609.8" r="3"/><circle cx="1859.3" cy="588" r="3"/><circle cx="1887.5" cy="568.9" r="3"/><circle cx="1918.3" cy="556.4" r="3"/></g>
<text x="1930" y="718" class="c m">Figure 2: <tspan class="i">ζ<tspan style="font-size:7px" dy="-4">t</tspan></tspan><tspan dy="4"> for high multiplicity clases at different energies.</tspan></text>

<!-- Fig 3 -->
<rect x="1785" y="755" width="287" height="178" class="ax"/>
<text x="1782" y="936" class="s e">0.4</text><text x="1782" y="906" class="s e">0.5</text><text x="1782" y="877" class="s e">0.6</text><text x="1782" y="847" class="s e">0.7</text><text x="1782" y="817" class="s e">0.8</text><text x="1782" y="788" class="s e">0.9</text><text x="1782" y="758" class="s e">1</text>
<text x="1803" y="946" class="s m">10</text><text x="1841" y="946" class="s m">15</text><text x="1880" y="946" class="s m">20</text><text x="1918" y="946" class="s m">25</text><text x="1956" y="946" class="s m">30</text><text x="1995" y="946" class="s m">35</text><text x="2033" y="946" class="s m">40</text><text x="2072" y="946" class="s m">45</text>
<text x="1930" y="956" class="s m">dN/dη</text>
<text x="1765" y="844" class="s m" transform="rotate(-90 1765 844)">F(ξ<tspan style="font-size:7px" dy="-3">t</tspan><tspan dy="3">)</tspan></text>
<polyline fill="none" stroke="#f06060" points="1828.6,803.9 1859.3,835.1 1887.5,855.9 1918.3,872.2 1946.5,885.5 1977.2,893.5 2005.3,902.7 2033.6,911 2061.7,919.1"/>
<polyline fill="none" stroke="#4040e0" points="1797.6,778.7 1828.6,829.7 1859.3,859.4 1887.5,879.6 1918.3,895.9 1946.5,905.4 1977.2,910.2"/>
<polyline fill="none" stroke="#70d070" points="1797.6,808.4 1828.6,848.1 1859.3,871.9 1887.5,887.6 1918.3,895.9"/>
<g fill="#e00000"><rect x="1825.6" y="800.9" width="6" height="6"/><rect x="1856.3" y="832.1" width="6" height="6"/><rect x="1884.5" y="852.9" width="6" height="6"/><rect x="1915.3" y="869.2" width="6" height="6"/><rect x="1943.5" y="882.5" width="6" height="6"/><rect x="1974.2" y="890.5" width="6" height="6"/><rect x="2002.3" y="899.7" width="6" height="6"/><rect x="2030.6" y="908" width="6" height="6"/><rect x="2058.7" y="916.1" width="6" height="6"/><rect x="1983" y="771" width="6" height="6"/></g>
<g stroke="#e00000"><line x1="1828.6" y1="797" x2="1828.6" y2="811"/><line x1="1859.3" y1="829" x2="1859.3" y2="841"/><line x1="1887.5" y1="850" x2="1887.5" y2="862"/></g>
<g fill="#0000d0"><path d="M1797.6,775.7 l3,5 h-6z M1828.6,826.7 l3,5 h-6z M1859.3,856.4 l3,5 h-6z M1887.5,876.6 l3,5 h-6z M1918.3,892.9 l3,5 h-6z M1946.5,902.4 l3,5 h-6z M1977.2,907.2 l3,5 h-6z M1986,787 l2.5,4 h-5z"/></g>
<g stroke="#0000d0"><line x1="1797.6" y1="770" x2="1797.6" y2="787"/></g>
<g fill="#40c040"><circle cx="1797.6" cy="808.4" r="3"/><circle cx="1828.6" cy="848.1" r="3"/><circle cx="1859.3" cy="871.9" r="3"/><circle cx="1887.5" cy="887.6" r="3"/><circle cx="1918.3" cy="895.9" r="3"/><circle cx="1986" cy="805" r="2.5"/></g>
<text x="2002" y="778" class="s b" style="font-size:9px">7 TeV</text>
<text x="2002" y="794" class="s b" style="font-size:9px">2.76 TeV</text>
<text x="2002" y="809" class="s b" style="font-size:9px">900 GeV</text>
<text x="1930" y="991" class="c m">Figure 3: Color reduction factor at high multiplicities for different energies</text>
<text x="1750" y="1038" class="b">4.  Shear Viscosity over Entropy Density (<tspan class="i">η</tspan>/<tspan class="i">s</tspan>)</text>
<text x="1770" y="1067" textLength="339">The equation (4) is the Schwinger mechanism for massless</text>
<text x="1750" y="1084" textLength="359">particles which can be related to the average value of the string</text>
<text x="2120" y="1112" class="m">3</text>

<text x="2135" y="131">tension</text>
<text x="2170" y="160">⟨<tspan class="i">x</tspan><tspan style="font-size:9px" dy="-5">2</tspan><tspan dy="5">⟩ = </tspan><tspan class="i">π</tspan>⟨<tspan class="i">p</tspan><tspan style="font-size:9px" dy="-5">2</tspan><tspan style="font-size:9px" dx="-5" dy="8">T</tspan><tspan dy="-3">⟩</tspan><tspan style="font-size:9px">1</tspan>/<tspan class="i">F</tspan>(<tspan class="i">ζ</tspan>)</text>
<text x="2494" y="160" class="e">(9)</text>
<text x="2135" y="187" textLength="359">this value fluctuates around its mean value because the chromo-</text>
<text x="2135" y="204" textLength="359">electric field is not constant, the fluctuations of the chromo elec-</text>
<text x="2135" y="222" textLength="359">tric field strength lead to a Gaussian distribution of the string</text>
<text x="2135" y="238" textLength="359">tension that transform it into a thermal distribution, where the</text>
<text x="2135" y="255">temperature is been given by the relation [12]</text>
<text x="2170" y="300"><tspan class="i">T</tspan>(<tspan class="i">ζ<tspan style="font-size:9px" dy="-5">t</tspan></tspan><tspan dy="5">) =</tspan></text>
<path d="M2220,296 l4,-3 l6,22 l6,-42 h38" class="ax"/>
<text x="2242" y="289">⟨<tspan class="i">p</tspan><tspan style="font-size:9px" dy="-5">2</tspan><tspan style="font-size:9px" dx="-5" dy="8">T</tspan><tspan dy="-3">⟩</tspan><tspan style="font-size:9px">1</tspan></text>
<line x1="2238" y1="295" x2="2280" y2="295" class="tl"/>
<text x="2238" y="311">2<tspan class="i">F</tspan>(<tspan class="i">ζ<tspan style="font-size:9px" dy="-5">t</tspan></tspan><tspan dy="5">)</tspan></text>
<text x="2494" y="300" class="e">(10)</text>
<text x="2155" y="337" textLength="339">We consider that the experimental, determined chemical freeze</text>
<text x="2135" y="354" textLength="359">out temperature is a good mesure of the phase transition tem-</text>
<text x="2135" y="371">perature <tspan class="i">T<tspan style="font-size:9px">c</tspan></tspan>.</text>
<text x="2155" y="388" textLength="339">The single string average transverse momentum ⟨<tspan class="i">p<tspan style="font-size:9px">t</tspan></tspan>⟩<tspan style="font-size:9px">1</tspan> is cal-</text>
<text x="2135" y="405" textLength="359">culated at <tspan class="i">ζ<tspan style="font-size:9px">c</tspan></tspan> = 1.2 and <tspan class="i">ζ<tspan style="font-size:9px">c</tspan></tspan> = 1.5 with the universal chemical</text>
<text x="2135" y="422" textLength="359">freeze out temperature of 167.7 ± 2.6 MeV and 154 ± 9 MeV</text>
<text x="2135" y="440" textLength="359">both values corresponding to the old and new LQCD results</text>
<text x="2135" y="456" textLength="359">from the HotLQCD collaboration [19]. The values are given in</text>
<text x="2135" y="473">table 3 which are close to ∼ 200 MeV.</text>
<!-- Table 3 -->
<rect x="2204" y="490" width="244" height="88" class="ax"/>
<line x1="2285" y1="490" x2="2285" y2="578" class="tl"/><line x1="2320" y1="490" x2="2320" y2="578" class="tl"/>
<line x1="2204" y1="507.6" x2="2448" y2="507.6" class="tl"/><line x1="2204" y1="509.6" x2="2448" y2="509.6" class="tl"/><line x1="2204" y1="525.2" x2="2448" y2="525.2" class="tl"/><line x1="2204" y1="542.8" x2="2448" y2="542.8" class="tl"/><line x1="2204" y1="560.4" x2="2448" y2="560.4" class="tl"/>
<text x="2245" y="504" class="m i">T<tspan style="font-size:9px">c</tspan></text><text x="2302" y="504" class="m i">ζ<tspan style="font-size:8px" dy="-5">t</tspan><tspan style="font-size:8px" dx="-3" dy="8">c</tspan></text><text x="2384" y="504" class="m i">p<tspan style="font-size:9px">T1</tspan></text>
<text x="2245" y="521" class="m">154 ±9</text><text x="2302" y="521" class="m">1.2</text><text x="2384" y="521" class="m">190.25 ±11.12</text>
<text x="2245" y="539" class="m">154 ±9</text><text x="2302" y="539" class="m">1.5</text><text x="2384" y="539" class="m">184.76 ±7.80</text>
<text x="2245" y="556" class="m">167.7 ±2.3</text><text x="2302" y="556" class="m">1.2</text><text x="2384" y="556" class="m">207.18 ±3.21</text>
<text x="2245" y="574" class="m">167.7 ±2.3</text><text x="2302" y="574" class="m">1.5</text><text x="2384" y="574" class="m">201.19 ±3.12</text>
<text x="2316" y="589" class="c m">Table 3: Temperature, and string density and <tspan class="i">p<tspan style="font-size:7px">T1</tspan></tspan> in pp collisions</text>
<text x="2155" y="638" textLength="339">Above the <tspan class="i">ζ<tspan style="font-size:9px">c</tspan></tspan> the size and density spanning cluster increases.</text>
<text x="2135" y="656" textLength="359">We compare the obtained temperature <tspan class="i">T<tspan style="font-size:9px">i</tspan></tspan> at the measured value</text>
<text x="2135" y="673" textLength="359">of <tspan class="i">ζ</tspan> = 2.88 before the expansion of the QGP with the measured</text>
<text x="2135" y="690" textLength="359"><tspan class="i">T<tspan style="font-size:9px">i</tspan></tspan> = 221 ± 19<tspan style="font-size:9px" class="i">stat</tspan> ± 19<tspan style="font-size:9px" class="i">sys</tspan> MeV from the enhanced direct photon</text>
<text x="2135" y="707">experiment measured by PHENIX [20].</text>
<text x="2155" y="724" textLength="339">We observed that all the values used in table 3 are consis-</text>
<text x="2135" y="742" textLength="359">tent with the previously used value of ∼ 200 MeV [22] in the</text>
<text x="2135" y="759" textLength="359">calculation of percolation transition of temperature with the ex-</text>
<text x="2135" y="776">ception of the one obtained at <tspan class="i">T<tspan style="font-size:9px">c</tspan></tspan> = 154 with <tspan class="i">ζ<tspan style="font-size:9px">c</tspan></tspan> = 1.5.</text>
<text x="2155" y="793" textLength="339">To calculate the effective temperature for each multiplicity</text>
<text x="2135" y="811" textLength="359">for the critical density <tspan class="i">ζ<tspan style="font-size:9px">c</tspan></tspan> = 1.2 and a critical temperature <tspan class="i">T<tspan style="font-size:9px">c</tspan></tspan> =</text>
<text x="2135" y="828" textLength="359">154 ± 9 MeV, with the corresponding ⟨<tspan class="i">p<tspan style="font-size:9px">T</tspan></tspan>⟩<tspan style="font-size:9px">1</tspan> we used equation</text>
<text x="2135" y="845" textLength="359">(10) to get the value of <tspan class="i">T</tspan> from a given string density <tspan class="i">ζ<tspan style="font-size:9px" dy="-5">t</tspan></tspan><tspan dy="5"> which</tspan></text>
<text x="2135" y="862" textLength="359">correspond to a mean number of produced strings in a given</text>
<text x="2135" y="880">collision energy.</text>
<text x="2155" y="897" textLength="339">Table 4 and Figure 4 show the growing of <tspan class="i">T</tspan> with the in-</text>
<text x="2135" y="914">crease of the multiplicity <tspan class="i">dn</tspan>/<tspan class="i">dη</tspan>.</text>

<!-- ================= PAGE 4 ================= -->
<!-- Table 4 -->
<rect x="2697" y="113" width="157" height="196" class="ax"/>
<line x1="2749" y1="113" x2="2749" y2="309" class="tl"/>
<g class="tl">
<line x1="2697" y1="130.8" x2="2854" y2="130.8"/><line x1="2697" y1="132.8" x2="2854" y2="132.8"/><line x1="2697" y1="148.6" x2="2854" y2="148.6"/><line x1="2697" y1="166.4" x2="2854" y2="166.4"/><line x1="2697" y1="184.2" x2="2854" y2="184.2"/><line x1="2697" y1="202" x2="2854" y2="202"/><line x1="2697" y1="219.8" x2="2854" y2="219.8"/><line x1="2697" y1="237.6" x2="2854" y2="237.6"/><line x1="2697" y1="255.4" x2="2854" y2="255.4"/><line x1="2697" y1="273.2" x2="2854" y2="273.2"/><line x1="2697" y1="291" x2="2854" y2="291"/>
</g>
<text x="2723" y="127" class="m i">dn/dη</text><text x="2801" y="127" class="m i">T</text>
<text x="2723" y="146" class="m">5.88</text><text x="2801" y="146" class="m">145.86 ± 8.52</text>
<text x="2723" y="163" class="m">13.33</text><text x="2801" y="163" class="m">147.41 ± 10.71</text>
<text x="2723" y="181" class="m">17.33</text><text x="2801" y="181" class="m">157.51 ± 11.54</text>
<text x="2723" y="199" class="m">21.00</text><text x="2801" y="199" class="m">165.71 ± 12.22</text>
<text x="2723" y="216" class="m">25.00</text><text x="2801" y="216" class="m">173.37 ± 12.88</text>
<text x="2723" y="234" class="m">28.67</text><text x="2801" y="234" class="m">179.75 ± 13.45</text>
<text x="2723" y="252" class="m">32.67</text><text x="2801" y="252" class="m">184.55 ± 13.92</text>
<text x="2723" y="270" class="m">36.33</text><text x="2801" y="270" class="m">190.09 ± 14.50</text>
<text x="2723" y="287" class="m">40.00</text><text x="2801" y="287" class="m">195.61 ± 15.17</text>
<text x="2723" y="305" class="m">43.67</text><text x="2801" y="305" class="m">201.46 ± 15.69</text>
<text x="2632" y="319" class="c">Table 4:  Obtained <tspan class="i">T</tspan> for different multiplicity classes at 7 TeV.</text>
<!-- Fig 4 -->
<rect x="2632" y="380" width="273" height="178" class="ax"/>
<text x="2629" y="561" class="s e">100</text><text x="2629" y="536" class="s e">120</text><text x="2629" y="510" class="s e">140</text><text x="2629" y="485" class="s e">160</text><text x="2629" y="459" class="s e">180</text><text x="2629" y="434" class="s e">200</text><text x="2629" y="409" class="s e">220</text><text x="2629" y="383" class="s e">240</text>
<text x="2654" y="571" class="s m">5</text><text x="2685" y="571" class="s m">10</text><text x="2716" y="571" class="s m">15</text><text x="2747" y="571" class="s m">20</text><text x="2778" y="571" class="s m">25</text><text x="2808" y="571" class="s m">30</text><text x="2839" y="571" class="s m">35</text><text x="2870" y="571" class="s m">40</text><text x="2901" y="571" class="s m">45</text>
<text x="2778" y="580" class="s m">dN/dη</text>
<text x="2603" y="470" class="s m" transform="rotate(-90 2603 470)">T (MeV)</text>
<polyline fill="none" stroke="#f04040" points="2659.4,499.7 2705.4,497.7 2730.1,484.9 2752.8,474.5 2777.5,464.7 2800.2,456.6 2824.9,450.5 2847.5,443.5 2870.1,436.4 2892.8,429"/>
<g stroke="#f04040">
<line x1="2659.4" y1="488.9" x2="2659.4" y2="510.5"/><line x1="2705.4" y1="484.1" x2="2705.4" y2="511.3"/><line x1="2730.1" y1="470.2" x2="2730.1" y2="499.6"/><line x1="2752.8" y1="459" x2="2752.8" y2="490"/><line x1="2777.5" y1="448.3" x2="2777.5" y2="481.1"/><line x1="2800.2" y1="439.5" x2="2800.2" y2="473.7"/><line x1="2824.9" y1="432.8" x2="2824.9" y2="468.2"/><line x1="2847.5" y1="425.1" x2="2847.5" y2="461.9"/><line x1="2870.1" y1="417.1" x2="2870.1" y2="455.7"/><line x1="2892.8" y1="409.1" x2="2892.8" y2="448.9"/>
</g>
<g fill="#e00000"><rect x="2657" y="497.3" width="5" height="5"/><rect x="2703" y="495.3" width="5" height="5"/><rect x="2727.6" y="482.4" width="5" height="5"/><rect x="2750.3" y="472" width="5" height="5"/><rect x="2775" y="462.2" width="5" height="5"/><rect x="2797.7" y="454.1" width="5" height="5"/><rect x="2822.4" y="448" width="5" height="5"/><rect x="2845" y="441" width="5" height="5"/><rect x="2867.6" y="433.9" width="5" height="5"/><rect x="2890.3" y="426.5" width="5" height="5"/></g>
<text x="2598" y="616" class="c" textLength="330">Figure 4: Effective temperature vs <tspan class="i">dN</tspan>/<tspan class="i">dη</tspan> for high multiplicity classes at √<tspan class="i">s</tspan> = 7</text>
<text x="2598" y="629" class="c">TeV</text>
<text x="2618" y="650" textLength="339">In terms of the effective temperature one can study some</text>
<text x="2598" y="667" textLength="359">useful quantities as the ratio of the shear viscosity over en-</text>
<text x="2598" y="684" textLength="359">tropy density which is given in the relativistic kinetic theory</text>
<text x="2598" y="701">as [23],[24]</text>
<text x="2633" y="736"><tspan class="i">η</tspan>/<tspan class="i">s</tspan> ≃</text>
<text x="2673" y="724" class="i">Tλ<tspan style="font-size:8px" dy="3">mfp</tspan></text>
<line x1="2671" y1="730" x2="2702" y2="730" class="tl"/>
<text x="2682" y="746">5</text>
<text x="2957" y="736" class="e">(11)</text>
<text x="2598" y="770" textLength="359">where <tspan class="i">λ<tspan style="font-size:8px">mfp</tspan></tspan> is the mean free path ∼ <tspan style="font-size:9px">1/(nσ<tspan style="font-size:7px">tr</tspan>)</tspan>, n is the number of</text>
<text x="2598" y="787" textLength="359">density of the effective number of sources per unit volume and</text>
<text x="2598" y="804"><tspan class="i">σ<tspan style="font-size:9px">tr</tspan></tspan> is the transport cross section.</text>
<text x="2633" y="839" class="i">n</text><text x="2643" y="839">=</text>
<text x="2658" y="828" class="i">N<tspan style="font-size:8px" dy="3">sources</tspan></text>
<line x1="2657" y1="833" x2="2702" y2="833" class="tl"/>
<text x="2665" y="849" class="i">S<tspan style="font-size:8px" dy="3">N</tspan><tspan dy="-3">L</tspan></text>
<text x="2957" y="839" class="e">(12)</text>
<text x="2598" y="873">It is considered that</text>
<text x="2633" y="894" class="i">N<tspan style="font-size:8px" dy="3">sources</tspan></text>
<line x1="2632" y1="899" x2="2675" y2="899" class="tl"/>
<text x="2640" y="914" class="i">S<tspan style="font-size:8px" dy="3">N</tspan><tspan dy="-3">L</tspan></text>
<text x="2676" y="905"><tspan class="i">σ<tspan style="font-size:8px">tr</tspan></tspan> = (1 − <tspan class="i">e</tspan><tspan style="font-size:8px" dy="-6">−ζᵗ</tspan><tspan dy="6">)/</tspan><tspan class="i">L</tspan></text>
<text x="2957" y="905" class="e">(13)</text>
<text x="2598" y="940" textLength="359">considering <tspan class="i">L</tspan> = 1<tspan class="i">fm</tspan> the longitudinal extension of the source</text>
<text x="2598" y="957">one can give the relation <tspan class="i">η</tspan>/<tspan class="i">s</tspan> in terms of <tspan class="i">ζ<tspan style="font-size:9px" dy="-5">t</tspan></tspan><tspan dy="5"> as in reference [24]</tspan></text>
<text x="2634" y="983" class="i">η</text><line x1="2632" y1="988" x2="2642" y2="988" class="tl"/><text x="2634" y="1004" class="i">s</text>
<text x="2646" y="994">=</text>
<text x="2680" y="982" class="i">TL</text>
<line x1="2660" y1="988" x2="2720" y2="988" class="tl"/>
<text x="2661" y="1005">5(1 − <tspan class="i">e</tspan><tspan style="font-size:8px" dy="-6">−ζᵗ</tspan><tspan dy="6">)</tspan></text>
<text x="2957" y="994" class="e">(14)</text>
<text x="2618" y="1034" textLength="339">In figure 5 we show the dependence of <tspan style="font-size:9px" class="i">η/s</tspan> from (12) on the</text>
<text x="2598" y="1051" textLength="359">ratio <tspan class="i">T</tspan>/<tspan class="i">T<tspan style="font-size:9px">c</tspan></tspan>. The results changes very little for the 3 different</text>
<text x="2598" y="1068">scenarios of critical values given in Table 3.</text>
<text x="2968" y="1112" class="m">4</text>

<!-- Fig 5 -->
<rect x="3018" y="130" width="286" height="180" class="ax"/>
<text x="3015" y="313" class="s e">0</text><text x="3015" y="287" class="s e">0.1</text><text x="3015" y="262" class="s e">0.2</text><text x="3015" y="236" class="s e">0.3</text><text x="3015" y="210" class="s e">0.4</text><text x="3015" y="184" class="s e">0.5</text><text x="3015" y="159" class="s e">0.6</text><text x="3015" y="133" class="s e">0.7</text>
<text x="3018" y="323" class="s m">0.5</text><text x="3088" y="323" class="s m">1</text><text x="3158" y="323" class="s m">1.5</text><text x="3229" y="323" class="s m">2</text><text x="3299" y="323" class="s m">2.5</text>
<text x="3160" y="334" class="s m">T/T<tspan style="font-size:7px" dy="3">c</tspan></text>
<text x="2993" y="222" class="s m" transform="rotate(-90 2993 222)">η/s</text>
<line x1="3019" y1="289.5" x2="3303" y2="289.5" stroke="#000" stroke-dasharray="3,2"/>
<text x="3212" y="277" class="s b" style="font-size:9px">AdS/CFT</text>
<g stroke="#f04040" fill="none">
<line x1="3081.6" y1="131" x2="3081.6" y2="236.7"/>
<polyline points="3083.2,236.7 3092.6,255.2 3100.1,259.6 3107.1,260.6 3113,260.6 3117.5,260.1 3122.5,259.4 3127.6,258.3 3133.1,257 3304,205.9"/>
<line x1="3067" y1="236.7" x2="3102" y2="236.7"/>
<line x1="3076" y1="255.2" x2="3110" y2="255.2"/>
<line x1="3083" y1="259.6" x2="3120" y2="259.6"/>
<line x1="3090" y1="260.6" x2="3130" y2="260.6"/>
<line x1="3100" y1="259.4" x2="3145" y2="259.4"/>
</g>
<g fill="#e00000"><rect x="3080.7" y="234.2" width="5" height="5"/><rect x="3090.1" y="252.7" width="5" height="5"/><rect x="3097.6" y="257.1" width="5" height="5"/><rect x="3104.6" y="258.1" width="5" height="5"/><rect x="3110.5" y="258.1" width="5" height="5"/><rect x="3115" y="257.6" width="5" height="5"/><rect x="3120" y="256.9" width="5" height="5"/><rect x="3125.1" y="255.8" width="5" height="5"/><rect x="3130.6" y="254.5" width="5" height="5"/></g>
<text x="2983" y="368" class="c" textLength="359">Figure 5: Shear viscosity over entropy ratio for 7 TeV high multiplicity classes</text>
<text x="2983" y="381" class="c" textLength="359">corresponding to <tspan class="i">N<tspan style="font-size:7px">track</tspan></tspan> = 40 up to <tspan class="i">N<tspan style="font-size:7px">track</tspan></tspan> = 131, with the <tspan class="i">T<tspan style="font-size:7px">c</tspan></tspan> = 154 ± 9.</text>
<text x="2983" y="395" class="c">AdS/CFT result is take as 1/(4<tspan class="i">π</tspan>).</text>
<text x="2983" y="418" textLength="359">Table 5 shows the values for the ratio <tspan style="font-size:9px" class="i">η/s</tspan>, as obtained from equa-</text>
<text x="2983" y="435">tion (12) for the different event clases.</text>
<!-- Table 5 -->
<rect x="3067" y="455" width="187" height="191" class="ax"/>
<line x1="3165" y1="455" x2="3165" y2="646" class="tl"/>
<g class="tl">
<line x1="3067" y1="472.4" x2="3254" y2="472.4"/><line x1="3067" y1="474.4" x2="3254" y2="474.4"/><line x1="3067" y1="489.7" x2="3254" y2="489.7"/><line x1="3067" y1="507.1" x2="3254" y2="507.1"/><line x1="3067" y1="524.4" x2="3254" y2="524.4"/><line x1="3067" y1="541.8" x2="3254" y2="541.8"/><line x1="3067" y1="559.2" x2="3254" y2="559.2"/><line x1="3067" y1="576.5" x2="3254" y2="576.5"/><line x1="3067" y1="593.9" x2="3254" y2="593.9"/><line x1="3067" y1="611.3" x2="3254" y2="611.3"/><line x1="3067" y1="628.6" x2="3254" y2="628.6"/>
</g>
<text x="3116" y="468" class="m i">T/T<tspan style="font-size:9px">c</tspan></text><text x="3210" y="468" class="m i">η/s</text>
<text x="3116" y="486" class="m">0.953 ± 0.111</text><text x="3210" y="486" class="m">1.489 ± .087</text>
<text x="3116" y="503" class="m">0.964 ± 0.126</text><text x="3210" y="503" class="m">0.285 ± .052</text>
<text x="3116" y="520" class="m">1.031 ± 0.135</text><text x="3210" y="520" class="m">0.213 ± .025</text>
<text x="3116" y="538" class="m">1.084 ± 0.143</text><text x="3210" y="538" class="m">0.196 ± .020</text>
<text x="3116" y="555" class="m">1.134 ± 0.150</text><text x="3210" y="555" class="m">0.192 ± .017</text>
<text x="3116" y="572" class="m">1.176 ± 0.156</text><text x="3210" y="572" class="m">0.192 ± .017</text>
<text x="3116" y="590" class="m">1.208 ± 0.161</text><text x="3210" y="590" class="m">0.194 ± .016</text>
<text x="3116" y="607" class="m">1.244 ± 0.167</text><text x="3210" y="607" class="m">0.197 ± .016</text>
<text x="3116" y="624" class="m">1.280 ± 0.173</text><text x="3210" y="624" class="m">0.201 ± .016</text>
<text x="3116" y="642" class="m">1.319 ± 0.179</text><text x="3210" y="642" class="m">0.206 ± .166</text>
<text x="2983" y="658" class="c" textLength="359">Table 5: Shear viscosity over entropy ratio for 7 TeV high multiplicity classes,</text>
<text x="2983" y="671" class="c" textLength="359">with the <tspan class="i">T<tspan style="font-size:7px">c</tspan></tspan> = 154 ± 9. The fist row correspond to the values for the min bias</text>
<text x="2983" y="684" class="c"><tspan class="i">dn</tspan>/<tspan class="i">dη</tspan> in order to compare as a reference.</text>
<text x="2983" y="757" class="b">5.  Conclusions</text>
<text x="3003" y="786" textLength="339">We have seen in this work that the measured high multi-</text>
<text x="2983" y="803" textLength="359">plicity events in <tspan class="i">p</tspan> − <tspan class="i">p</tspan> collisions at the energies 900 GeV, 2.76</text>
<text x="2983" y="820" textLength="359">TeV and 7 TeV are able to reach the geometrical phase tran-</text>
<text x="2983" y="837" textLength="359">sition in the framework of string percolation model that marks</text>
<text x="2983" y="855" textLength="359">the critical string density at which collective effects appears as</text>
<text x="2983" y="872" textLength="359">a result of the increasing density due to a kind of centrality at</text>
<text x="2983" y="889">these events.</text>
<text x="2983" y="929" class="b">6.  Acknowledgments</text>
<text x="3003" y="959" textLength="339">I. Bautista was supported by CONACYT grant, and thank</text>
<text x="2983" y="976">C. Pajares, B. K. Srivastava for communication.</text>
<text x="2983" y="1017" class="b">References</text>
<text x="2986" y="1044" class="r">[1]</text><text x="3007" y="1044" class="r" textLength="335">Miller, M. L. Reygers, K. Sanders, S. J. and Steinberg, P., Annu. Rev.</text>
<text x="3007" y="1057" class="r">Nucl. Part. Sci. <tspan class="b">57</tspan>,205 (2007).</text>
<text x="2986" y="1071" class="r">[2]</text><text x="3007" y="1071" class="r" textLength="335">Khachatryan, V. et al., CMS Collaboration, J. High Energy Phys. bf 09 ,</text>
<text x="3007" y="1084" class="r">091 (2010).</text>

<!-- ================= PAGE 5 ================= -->
<g class="r">
<text x="3470" y="130" class="r e">[3]</text><text x="3474" y="130" class="r">Van Hove, L., Phys. Lett.<tspan class="b">B118</tspan>, 138 (1982).</text>
<text x="3470" y="144" class="r e">[4]</text><text x="3474" y="144" class="r" textLength="334">Bjorken, J. D. Fermilab Report No. FERMILAB-PUB-82-059-THY,</text>
<text x="3474" y="157" class="r">(1982).</text>
<text x="3470" y="170" class="r e">[5]</text><text x="3474" y="170" class="r">Alexopoulos. T, et al., Phys. Lett.<tspan class="b">B528</tspan>, 43 - 48 (2002).</text>
<text x="3470" y="184" class="r e">[6]</text><text x="3474" y="184" class="r">Levai, P. and Muller, B. Phys. Rev. Lett. <tspan class="b">67</tspan>, 1519 (1991).</text>
<text x="3470" y="197" class="r e">[7]</text><text x="3474" y="197" class="r">Shuryak, E. and Zahed, I. Phys. Rev.<tspan class="b">C88</tspan>, 044915 (2013).</text>
<text x="3470" y="211" class="r e">[8]</text><text x="3474" y="211" class="r">Bozek, P. Eur. Phys. J.<tspan class="b">C71</tspan>, 1530 (2011).</text>
<text x="3470" y="225" class="r e">[9]</text><text x="3474" y="225" class="r" textLength="334">Werner, K., Karpenko, I., and Pierog, T. Phys. Rev. Lett. <tspan class="b">106</tspan>, 122004</text>
<text x="3474" y="238" class="r">(2011).</text>
<text x="3470" y="251" class="r e">[10]</text><text x="3474" y="251" class="r" textLength="334">Ghosh, P., Muhuri, S., Nayak, J. and Varma, R., J. Phys. <tspan class="b">G 41</tspan> 035106</text>
<text x="3474" y="264" class="r">(2014).</text>
<text x="3470" y="278" class="r e">[11]</text><text x="3474" y="278" class="r">Ghosh, P. and Muhuri, S., arXiv:1406.5811 [hep-ph].</text>
<text x="3470" y="292" class="r e">[12]</text><text x="3474" y="292" class="r" textLength="334">R. P. Scharenberg, B. K. Srivastava and A. S. Hirsch, Eur. Phys. J. C <tspan class="b">71</tspan></text>
<text x="3474" y="305" class="r">(2011) 1510.</text>
<text x="3470" y="319" class="r e">[13]</text><text x="3474" y="319" class="r" textLength="334">Braun, M. A. Dias de Deus, J. Hirsch, A. S. Pajares, C. Scharenberg, R.</text>
<text x="3474" y="332" class="r">P. and Srivastava, B. K., arXiv:1501.01524 [nucl-th].</text>
<text x="3470" y="346" class="r e">[14]</text><text x="3474" y="346" class="r" textLength="334">J. Dias de Deus, A. S. Hirsch, C. Pajares, R. P. Scharenberg and B. K.</text>
<text x="3474" y="359" class="r">Srivastava, Eur. Phys. J. C <tspan class="b">72</tspan> (2012) 2123.</text>
<text x="3470" y="372" class="r e">[15]</text><text x="3474" y="372" class="r" textLength="334">Bautista, I. Milhano, J. G. Pajares, C. and Dias de Deus, J. Phys. Lett.</text>
<text x="3474" y="386" class="r"><tspan class="b">B715</tspan> 230 (2012).</text>
<text x="3470" y="400" class="r e">[16]</text><text x="3474" y="400" class="r" textLength="334">Bautista, I. Dias de Deus, J. and Pajares, C. Phys. Rev. <tspan class="b">C86</tspan> 034909</text>
<text x="3474" y="413" class="r">(2012).</text>
<text x="3470" y="427" class="r e">[17]</text><text x="3474" y="427" class="r">J. S. Schwinger, Phys. Rev. <tspan class="b">128</tspan> (1962) 2425.</text>
<text x="3470" y="440" class="r e">[18]</text><text x="3474" y="440" class="r">N. Armesto, C. Pajares, Int. J. Mod. Phys. A15 (2000) 2019-2052.</text>
<text x="3470" y="454" class="r e">[19]</text><text x="3474" y="454" class="r">HotQCD: Phys. Rev. D85, 054503 (2012).</text>
<text x="3470" y="467" class="r e">[20]</text><text x="3474" y="467" class="r" textLength="334">A. Adare et al., (PHENIX Collaboration), Phys. Rev. Lett. 104, 132301</text>
<text x="3474" y="480" class="r">(2010).</text>
<text x="3470" y="494" class="r e">[21]</text><text x="3474" y="494" class="r">J. Dias de Deus, C. Pajares, Phys. Lett. B642, 455 (2006).</text>
<text x="3470" y="508" class="r e">[22]</text><text x="3474" y="508" class="r">A. Bazavov et al., Phys. Rev. D80, 014504 (2009).</text>
<text x="3470" y="521" class="r e">[23]</text><text x="3474" y="521" class="r">T. Hirano, M. Gyulassy, Nucl. Phys. A 769 (2006) 71</text>
<text x="3470" y="534" class="r e">[24]</text><text x="3474" y="534" class="r" textLength="334">M. A. Braun, J. D. de Deus, A. S. Hirsch, C. Pajares, R. P. Scharenberg</text>
<text x="3474" y="547" class="r">and B. K. Srivastava, arXiv:1501.01524 [nucl-th].</text>
<text x="3470" y="561" class="r e">[25]</text><text x="3474" y="561" class="r">J. Dias de Deus, R. Ugoccioni, Phys. Lett. B491 (2000) 253-256.</text>
<text x="3470" y="575" class="r e">[26]</text><text x="3474" y="575" class="r" textLength="334">N. Armesto, M. A. Braun, E. G. Ferreiro and C. Pajares, Phys. Rev. Lett.</text>
<text x="3474" y="588" class="r">77(1996) 3736;</text>
<text x="3470" y="602" class="r e">[27]</text><text x="3474" y="602" class="r">M. A. Braun, C. Pajares, Eur. Phys. J. C16 (2000) 349-359.</text>
<text x="3470" y="615" class="r e">[28]</text><text x="3474" y="615" class="r" textLength="334">C. Pajares and Yu. M. Shabelski, Relativistic Nuclear Interactions, URSS,</text>
<text x="3474" y="629" class="r">Moscow (2007).</text>
<text x="3470" y="642" class="r e">[29]</text><text x="3474" y="642" class="r" textLength="334">P. Brogueira, J. Dias de Deus and J. G. Milhano, Nucl. Phys. A <tspan class="b">832</tspan> (2010)</text>
<text x="3474" y="655" class="r">76</text>
<text x="3470" y="669" class="r e">[30]</text><text x="3474" y="669" class="r">J. Dias de Deus and J. G. Milhano, Nucl. Phys. A <tspan class="b">795</tspan> (2007) 98.</text>
<text x="3470" y="683" class="r e">[31]</text><text x="3474" y="683" class="r">I. Bautista, C. Pajares and J. D. de Deus, Nucl. Phys. A <tspan class="b">882</tspan> (2012) 44.</text>
<text x="3470" y="696" class="r e">[32]</text><text x="3474" y="696" class="r" textLength="334">R. P. Scharenberg, B. K. Srivastava, A. S. Hirsch, Eur. Phys. J. C 71</text>
<text x="3474" y="710" class="r">(2011) 1510.</text>
<text x="3470" y="723" class="r e">[33]</text><text x="3474" y="723" class="r" textLength="334">J. Dias de Deus, E. G. Ferreiro, C. Pajares and R. Ugoccioni, Eur. Phys.</text>
<text x="3474" y="736" class="r">J. C <tspan class="b">40</tspan> (2005) 229.</text>
<text x="3470" y="750" class="r e">[34]</text><text x="3474" y="750" class="r" textLength="334">E. G. Ferreiro, F. del Moral and C. Pajares, Phys. Rev. C <tspan class="b">69</tspan> (2004)</text>
<text x="3474" y="763" class="r">034901.</text>
<text x="3470" y="777" class="r e">[35]</text><text x="3474" y="777" class="r" textLength="334">L. Cunqueiro, J. Dias de Deus, E. G. Ferreiro and C. Pajares,</text>
<text x="3474" y="790" class="r">arXiv:0706.3383 [hep-ph].</text>
<text x="3470" y="804" class="r e">[36]</text><text x="3474" y="804" class="r">S. Chatrchyan <tspan class="i">et al.</tspan> [CMS Collaboration], Eur. Phys. J. C <tspan class="b">72</tspan> (2012) 2164.</text>
<text x="3470" y="818" class="r e">[37]</text><text x="3474" y="818" class="r">The Durham HepData Project, http://hepdata.cedar.ac.uk/view/ins1123117.</text>
<text x="3470" y="831" class="r e">[38]</text><text x="3474" y="831" class="r">M. A. Braun, F. del Moral, C. Pajares, Phys. Rev. C 65 (2002) 024907.</text>
<text x="3470" y="845" class="r e">[39]</text><text x="3474" y="845" class="r">E. Shuryak and I. Zahed, Phys. Rev. C <tspan class="b">88</tspan> (2013) 4, 044915.</text>
<text x="3470" y="858" class="r e">[40]</text><text x="3474" y="858" class="r">N. Cartiglia, arXiv:1305.6131 [hep-ex].</text>
</g>
<text x="3816" y="1112" class="m">5</text>
</svg>
</body></html>
